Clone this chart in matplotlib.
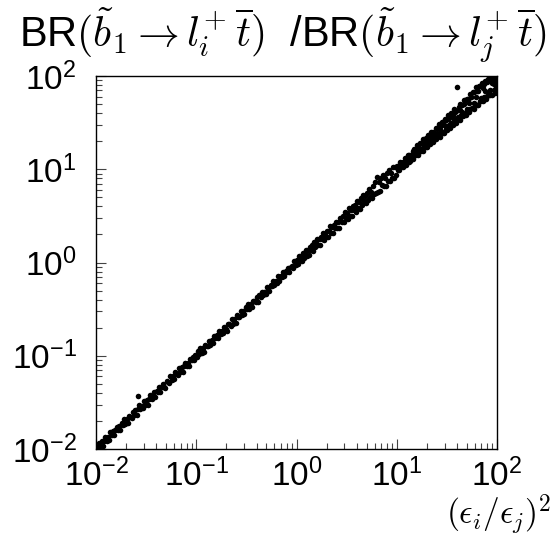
import matplotlib
matplotlib.use("Agg")
import matplotlib.pyplot as plt
import numpy as np

# ---- data (log10 of (eps_i/eps_j)^2 and log10 of BR-ratio / (eps_i/eps_j)^2) ----
lx_d1 = [-1.995,-1.983,-1.970,-1.958,-1.945,-1.933,-1.920,-1.908,-1.895,-1.883,
         -1.870,-1.858,-1.845,-1.833,-1.820,-1.808,-1.795,-1.783,-1.770,-1.758,
         -1.745,-1.733,-1.720,-1.708,-1.695,-1.683,-1.670,-1.658,-1.645,-1.633,
         -1.620,-1.608,-1.595,-1.583,-1.570,-1.558,-1.545,-1.533,-1.520,-1.508,
         -1.495,-1.483,-1.470,-1.458,-1.445,-1.433,-1.420,-1.408,-1.395,-1.383,
         -1.370,-1.358,-1.345,-1.333,-1.320,-1.308,-1.295,-1.283,-1.270,-1.258,
         -1.245,-1.233,-1.220,-1.208,-1.195,-1.183,-1.170,-1.158,-1.145,-1.133,
         -1.120,-1.108,-1.095,-1.083,-1.070,-1.058,-1.045,-1.033,-1.020,-1.008]
dy_d1 = [0.018,-0.032,0.038,-0.012,0.027,-0.039,0.006,0.033,-0.022,0.014,
         -0.036,0.040,-0.008,0.024,-0.028,0.009,0.036,-0.018,0.016,-0.040,
         0.028,-0.005,0.039,-0.026,0.012,-0.033,0.021,0.002,-0.020,0.034,
         -0.014,0.026,-0.038,0.015,0.042,-0.009,0.005,-0.030,0.032,-0.016,
         0.022,-0.042,0.010,0.036,-0.024,0.003,0.028,-0.034,0.018,-0.006,
         0.039,-0.027,0.008,0.032,-0.015,-0.039,0.024,0.005,-0.021,0.038,
         -0.010,0.016,-0.032,0.030,0.000,-0.026,0.040,-0.014,0.020,-0.036,
         0.012,0.033,-0.018,0.006,-0.040,0.027,-0.003,0.021,-0.028,0.015]

lx_d2 = [-0.995,-0.983,-0.970,-0.958,-0.945,-0.933,-0.920,-0.908,-0.895,-0.883,
         -0.870,-0.858,-0.845,-0.833,-0.820,-0.808,-0.795,-0.783,-0.770,-0.758,
         -0.745,-0.733,-0.720,-0.708,-0.695,-0.683,-0.670,-0.658,-0.645,-0.633,
         -0.620,-0.608,-0.595,-0.583,-0.570,-0.558,-0.545,-0.533,-0.520,-0.508,
         -0.495,-0.483,-0.470,-0.458,-0.445,-0.433,-0.420,-0.408,-0.395,-0.383,
         -0.370,-0.358,-0.345,-0.333,-0.320,-0.308,-0.295,-0.283,-0.270,-0.258,
         -0.245,-0.233,-0.220,-0.208,-0.195,-0.183,-0.170,-0.158,-0.145,-0.133,
         -0.120,-0.108,-0.095,-0.083,-0.070,-0.058,-0.045,-0.033,-0.020,-0.008]
dy_d2 = [-0.021,0.030,-0.009,0.036,-0.028,0.014,-0.038,0.022,0.003,-0.016,
         0.033,-0.026,0.009,-0.034,0.027,-0.005,0.020,-0.030,0.038,-0.012,
         0.015,-0.022,0.032,-0.002,-0.036,0.024,0.006,-0.018,0.034,-0.027,
         0.010,-0.039,0.028,0.002,-0.014,0.036,-0.021,0.016,-0.032,0.026,
         -0.008,0.039,-0.024,0.012,-0.033,0.021,0.005,-0.015,0.030,-0.038,
         0.018,-0.010,0.034,-0.020,0.008,-0.028,0.027,0.000,-0.036,0.022,
         -0.006,0.032,-0.018,0.014,-0.030,0.039,-0.024,0.009,-0.012,0.033,
         -0.027,0.020,-0.003,0.028,-0.034,0.015,0.006,-0.021,0.038,-0.014]

lx_d3 = [0.005,0.015,0.025,0.035,0.045,0.055,0.065,0.075,0.085,0.095,
         0.105,0.115,0.125,0.135,0.145,0.155,0.165,0.175,0.185,0.195,
         0.205,0.215,0.225,0.235,0.245,0.255,0.265,0.275,0.285,0.295,
         0.305,0.315,0.325,0.335,0.345,0.355,0.365,0.375,0.385,0.395,
         0.405,0.415,0.425,0.435,0.445,0.455,0.465,0.475,0.485,0.495,
         0.505,0.515,0.525,0.535,0.545,0.555,0.565,0.575,0.585,0.595,
         0.605,0.615,0.625,0.635,0.645,0.655,0.665,0.675,0.685,0.695,
         0.705,0.715,0.725,0.735,0.745,0.755,0.765,0.775,0.785,0.795,
         0.805,0.815,0.825,0.835,0.845,0.855,0.865,0.875,0.885,0.895,
         0.905,0.915,0.925,0.935,0.945,0.955,0.965,0.975,0.985,0.995]
dy_d3 = [0.026,-0.036,0.045,-0.013,0.020,-0.043,0.034,-0.023,0.005,0.039,
         -0.031,0.016,-0.047,0.036,-0.008,0.029,-0.039,0.049,-0.020,0.010,
         0.043,-0.027,0.022,-0.049,0.033,-0.003,0.047,-0.035,0.014,-0.021,
         0.038,-0.044,0.008,0.052,-0.029,0.023,-0.051,0.031,-0.012,0.042,
         -0.036,0.018,-0.052,0.047,0.003,-0.023,0.035,-0.043,0.055,-0.016,
         0.027,-0.048,0.060,-0.031,0.013,-0.055,0.044,-0.007,0.036,-0.058,
         0.052,-0.026,0.021,-0.057,0.049,-0.039,0.060,-0.016,0.031,-0.062,
         0.045,-0.049,0.068,-0.029,0.010,-0.060,0.054,-0.036,0.080,-0.045,
         0.110,-0.056,0.039,-0.068,0.060,-0.023,0.075,-0.052,0.026,-0.078,
         0.058,-0.039,0.070,-0.066,0.019,-0.049,0.064,-0.074,0.036,-0.058]

lx_d4 = [1.004,1.012,1.019,1.027,1.035,1.043,1.050,1.058,1.066,1.073,
         1.081,1.089,1.096,1.104,1.112,1.120,1.127,1.135,1.143,1.150,
         1.158,1.166,1.173,1.181,1.189,1.196,1.204,1.212,1.220,1.227,
         1.235,1.243,1.250,1.258,1.266,1.273,1.281,1.289,1.296,1.304,
         1.312,1.320,1.327,1.335,1.343,1.350,1.358,1.366,1.373,1.381,
         1.389,1.396,1.404,1.412,1.420,1.427,1.435,1.443,1.450,1.458,
         1.466,1.473,1.481,1.489,1.496,1.504,1.512,1.520,1.527,1.535,
         1.543,1.550,1.558,1.566,1.573,1.581,1.589,1.596,1.604,1.612,
         1.620,1.627,1.635,1.643,1.650,1.658,1.666,1.673,1.681,1.689,
         1.696,1.704,1.712,1.720,1.727,1.735,1.743,1.750,1.758,1.766,
         1.773,1.781,1.789,1.796,1.804,1.812,1.820,1.827,1.835,1.843,
         1.850,1.858,1.866,1.873,1.881,1.889,1.896,1.904,1.912,1.920,
         1.927,1.935,1.943,1.950,1.958,1.966,1.973,1.981,1.989,1.996]
dy_d4 = [0.030,-0.025,0.018,-0.040,0.045,-0.012,0.022,-0.035,0.008,-0.028,
         0.038,-0.045,0.015,-0.020,0.042,-0.038,0.025,-0.050,0.005,-0.030,
         0.035,-0.055,0.048,-0.018,0.020,-0.042,0.052,-0.060,0.010,-0.035,
         0.045,-0.050,0.030,-0.065,0.058,-0.025,0.015,-0.055,0.040,-0.070,
         0.050,-0.040,0.025,-0.062,0.060,-0.030,0.038,-0.075,0.012,-0.048,
         0.055,-0.068,0.035,-0.052,0.070,-0.080,0.020,-0.045,0.062,-0.072,
         0.042,-0.085,0.058,-0.060,0.030,-0.078,0.068,-0.050,0.048,-0.090,
         0.065,-0.070,0.025,-0.088,0.075,-0.058,0.040,-0.095,0.275,-0.075,
         0.052,-0.100,0.070,-0.065,0.035,-0.092,0.080,-0.082,0.058,-0.105,
         0.062,-0.075,0.045,-0.110,0.085,-0.090,0.030,-0.098,0.072,-0.120,
         0.055,-0.085,0.090,-0.108,0.040,-0.125,0.075,-0.095,0.060,-0.115,
         0.080,-0.130,0.048,-0.100,0.068,-0.140,0.035,-0.118,0.058,-0.105,
         0.025,-0.135,0.045,-0.150,0.010,-0.120,-0.030,-0.160,-0.010,-0.085]

lx_d4b = [1.008,1.031,1.054,1.077,1.100,1.123,1.146,1.169,1.192,1.215,
          1.238,1.261,1.284,1.307,1.330,1.353,1.376,1.399,1.422,1.445,
          1.468,1.491,1.514,1.537,1.560,1.583,1.606,1.629,1.652,1.675,
          1.698,1.721,1.744,1.767,1.790,1.813,1.836,1.859,1.882,1.905,
          1.928,1.951,1.974,1.992]
dy_d4b = [0.002,-0.008,0.010,-0.015,0.005,-0.020,0.012,-0.010,-0.025,0.008,
          -0.018,0.015,-0.030,0.000,-0.022,0.018,-0.035,-0.005,0.020,-0.040,
          0.010,-0.028,0.025,-0.045,-0.012,0.030,-0.050,0.005,-0.038,0.022,
          -0.055,-0.015,0.035,-0.060,-0.020,0.028,-0.070,0.010,-0.048,0.040,
          -0.075,-0.030,-0.055,-0.110]

lx_extra = [-1.584]
dy_extra = [0.156]

lx = np.array(lx_d1 + lx_d2 + lx_d3 + lx_d4 + lx_d4b + lx_extra)
dy = np.array(dy_d1 + dy_d2 + dy_d3 + dy_d4 + dy_d4b + dy_extra)
eps_ratio_sq = 10.0 ** lx
br_ratio = 10.0 ** (lx + dy)

plt.rcParams['font.family'] = ['Liberation Sans', 'DejaVu Sans']
plt.rcParams['mathtext.fontset'] = 'cm'

fig = plt.figure(figsize=(5.59, 5.36), dpi=100)
ax = fig.add_axes([96/559, 87/536, 401/559, 373/536])
ax.set_xscale('log')
ax.set_yscale('log')
ax.set_xlim(1e-2, 1e2)
ax.set_ylim(1e-2, 1e2)

ax.plot(eps_ratio_sq, br_ratio, 'o', ms=4.0, mfc='black', mec='none', ls='none', clip_on=True)

ax.tick_params(which='both', direction='in', top=False, right=False, width=0.8, color='#444444')
ax.tick_params(which='major', length=7, labelsize=24)
ax.tick_params(axis='y', which='major', pad=14)
ax.tick_params(axis='x', which='major', pad=7)
ax.tick_params(which='minor', length=4)
for s in ax.spines.values():
    s.set_linewidth(1.0)
    s.set_color('black')

fig.text(0.505, (536-47)/536,
         r'BR$(\tilde{b}_1 \rightarrow l_i^{+}\,\overline{t})$  /BR$(\tilde{b}_1 \rightarrow l_j^{+}\,\overline{t})$',
         ha='center', va='baseline', fontsize=30)
fig.text(551/559, (536-524)/536, r'$(\epsilon_i/\epsilon_j)^2$', ha='right', va='baseline', fontsize=24)

fig.savefig('out.png', dpi=100)
